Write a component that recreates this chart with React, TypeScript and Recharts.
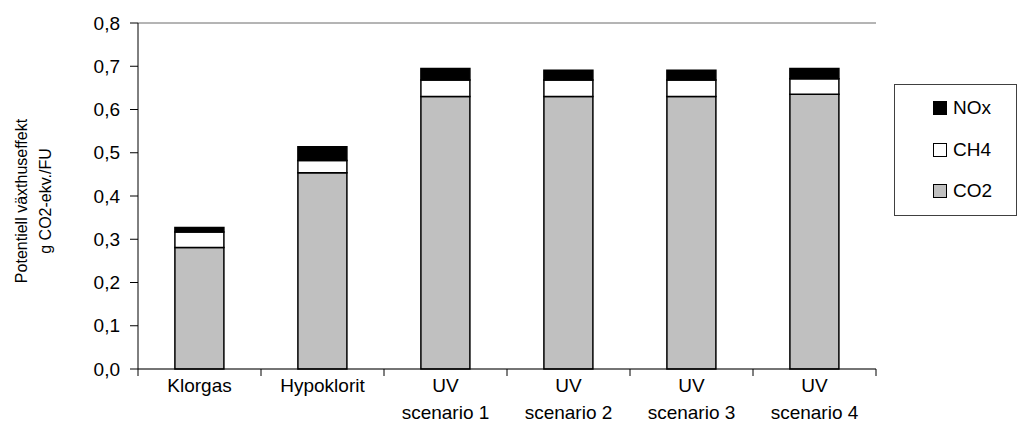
import { BarChart, Bar, XAxis, YAxis, CartesianGrid, ReferenceLine } from "recharts";

const categories = ["Klorgas", "Hypoklorit", "UV\nscenario 1", "UV\nscenario 2", "UV\nscenario 3", "UV\nscenario 4"];
const co2 = [0.281, 0.454, 0.63, 0.63, 0.63, 0.635];
const ch4 = [0.036, 0.028, 0.038, 0.038, 0.038, 0.036];
const nox = [0.01, 0.032, 0.027, 0.023, 0.023, 0.024];
const yTicks = [0, 0.1, 0.2, 0.3, 0.4, 0.5, 0.6, 0.7, 0.8];

const data = categories.map((name, i) => ({ name, CO2: co2[i], CH4: ch4[i], NOx: nox[i] }));

const FONT = "'Liberation Sans', Arial, sans-serif";
const BAND = 738 / 6;

function CategoryTick(props: any) {
  const { x, y, payload, index } = props;
  const lines = String(payload.value).split("\n");
  return (
    <g>
      <line x1={x - BAND / 2} y1={y - 8} x2={x - BAND / 2} y2={y - 1} stroke="#000" />
      {index === categories.length - 1 && (
        <line x1={x + BAND / 2} y1={y - 8} x2={x + BAND / 2} y2={y - 1} stroke="#000" />
      )}
      {lines.map((l, i) => (
        <text key={i} x={x} y={y + 15 + i * 27} textAnchor="middle" fontSize={19} fontFamily={FONT} fill="#000">
          {l}
        </text>
      ))}
    </g>
  );
}

function YTitle() {
  return (
    <g fontFamily={FONT} fontSize={16} fill="#000">
      <text x={21} y={201} transform="rotate(-90 21 201)" textAnchor="middle" dominantBaseline="central">
        Potentiell växthuseffekt
      </text>
      <text x={45} y={201} transform="rotate(-90 45 201)" textAnchor="middle" dominantBaseline="central">
        g CO2-ekv./FU
      </text>
    </g>
  );
}

const legendItems = [
  { label: "NOx", color: "#000000" },
  { label: "CH4", color: "#ffffff" },
  { label: "CO2", color: "#c0c0c0" },
];

function LegendBox() {
  return (
    <div
      style={{
        position: "absolute",
        left: 894,
        top: 84,
        width: 123,
        height: 132,
        border: "1px solid #404040",
        boxSizing: "border-box",
        background: "#fff",
        fontFamily: FONT,
        fontSize: 19,
      }}
    >
      {legendItems.map((it, i) => (
        <div
          key={it.label}
          style={{ position: "absolute", left: 38, top: 12 + i * 41.5, height: 22, display: "flex", alignItems: "center" }}
        >
          <span
            style={{
              display: "inline-block",
              width: 14,
              height: 14,
              boxSizing: "border-box",
              background: it.color,
              border: "1px solid #000",
              marginRight: 6,
            }}
          />
          <span>{it.label}</span>
        </div>
      ))}
    </div>
  );
}

export default function App() {
  return (
    <div style={{ position: "absolute", left: 0, top: 0, width: 1018, height: 439, background: "#fff" }}>
      <BarChart
        width={1018}
        height={439}
        data={data}
        margin={{ top: 23, right: 142, left: 0, bottom: 0 }}
        barCategoryGap="30%"
      >
        <CartesianGrid horizontal vertical={false} stroke="#d4d4d4" />
        <XAxis
          dataKey="name"
          height={70}
          interval={0}
          tick={<CategoryTick />}
          tickLine={false}
          axisLine={{ stroke: "#000" }}
        />
        <YAxis
          yAxisId="l"
          width={138}
          domain={[0, 0.8]}
          ticks={yTicks}
          interval={0}
          tickFormatter={(v) => Number(v).toFixed(1).replace(".", ",")}
          tick={{ fontSize: 19, fill: "#000", fontFamily: FONT }}
          tickLine={{ stroke: "#000" }}
          tickSize={8}
          tickMargin={10}
          axisLine={{ stroke: "#000" }}
          label={{ content: () => <YTitle /> }}
        />
        <YAxis
          yAxisId="r"
          orientation="right"
          width={0}
          domain={[0, 0.8]}
          ticks={yTicks}
          tick={false}
          tickLine={false}
          axisLine={{ stroke: "#808080" }}
        />
        <ReferenceLine yAxisId="l" y={0.8} stroke="#808080" />
        <Bar yAxisId="l" dataKey="CO2" stackId="a" fill="#c0c0c0" stroke="#000" strokeWidth={1.5} isAnimationActive={false} />
        <Bar yAxisId="l" dataKey="CH4" stackId="a" fill="#ffffff" stroke="#000" strokeWidth={1.5} isAnimationActive={false} />
        <Bar yAxisId="l" dataKey="NOx" stackId="a" fill="#000000" stroke="#000" strokeWidth={1.5} isAnimationActive={false} />
      </BarChart>
      <LegendBox />
    </div>
  );
}
